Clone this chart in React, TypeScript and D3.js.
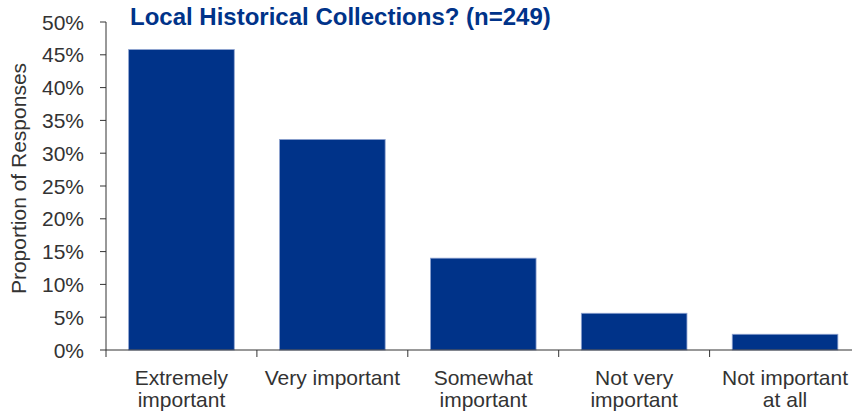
import * as d3 from "d3";

const categories = [
  ["Extremely", "important"],
  ["Very important"],
  ["Somewhat", "important"],
  ["Not very", "important"],
  ["Not important", "at all"],
];
const values = [45.8, 32.1, 14.0, 5.6, 2.4];
const yTicks = [0, 5, 10, 15, 20, 25, 30, 35, 40, 45, 50];
const title = "Local Historical Collections? (n=249)";

export default function App() {
  const width = 852;
  const height = 414;
  const margin = { top: 22, left: 106, bottom: 64 };
  const plotRight = 860.5;
  const y0 = height - margin.bottom;

  const names = categories.map((c) => c.join(" "));

  const xScale = d3
    .scaleBand()
    .domain(names)
    .range([margin.left, plotRight])
    .paddingInner(0.3)
    .paddingOuter(0.15);

  const yScale = d3.scaleLinear().domain([0, 50]).range([y0, margin.top]);

  const step = xScale.step();
  const boundaries = names.map((_, i) => margin.left + i * step);

  return (
    <svg
      width={width}
      height={height}
      style={{ position: "absolute", left: 0, top: 0 }}
      fontFamily="Liberation Sans, Arial, sans-serif"
    >
      {values.map((v, i) => (
        <rect
          key={i}
          x={xScale(names[i])}
          y={yScale(v)}
          width={xScale.bandwidth()}
          height={y0 - yScale(v)}
          fill="#003389"
          stroke="#8fa3d0"
          strokeWidth={0.8}
        />
      ))}

      <line x1={margin.left} x2={margin.left} y1={margin.top} y2={y0} stroke="#333" />
      <line x1={margin.left} x2={width} y1={y0} y2={y0} stroke="#333" />

      {yTicks.map((t) => (
        <g key={t}>
          <line x1={margin.left - 6} x2={margin.left} y1={yScale(t)} y2={yScale(t)} stroke="#333" />
          <text
            x={84}
            y={yScale(t)}
            textAnchor="end"
            dominantBaseline="central"
            fontSize={21}
            fill="#333"
          >
            {t}%
          </text>
        </g>
      ))}

      {boundaries.map((b, i) => (
        <line key={i} x1={b} x2={b} y1={y0} y2={y0 + 7} stroke="#333" />
      ))}

      {categories.map((lines, i) => (
        <text
          key={i}
          x={(xScale(names[i]) ?? 0) + xScale.bandwidth() / 2}
          y={385}
          textAnchor="middle"
          fontSize={21}
          fill="#333"
        >
          {lines.map((l, j) => (
            <tspan key={j} x={(xScale(names[i]) ?? 0) + xScale.bandwidth() / 2} dy={j === 0 ? 0 : 22}>
              {l}
            </tspan>
          ))}
        </text>
      ))}

      <text
        transform={`translate(26, ${(62 + 295) / 2}) rotate(-90)`}
        textAnchor="middle"
        fontSize={21}
        fill="#333"
      >
        Proportion of Responses
      </text>

      <text x={130} y={25} fontSize={24} fontWeight="bold" fill="#003389">
        {title}
      </text>
    </svg>
  );
}
